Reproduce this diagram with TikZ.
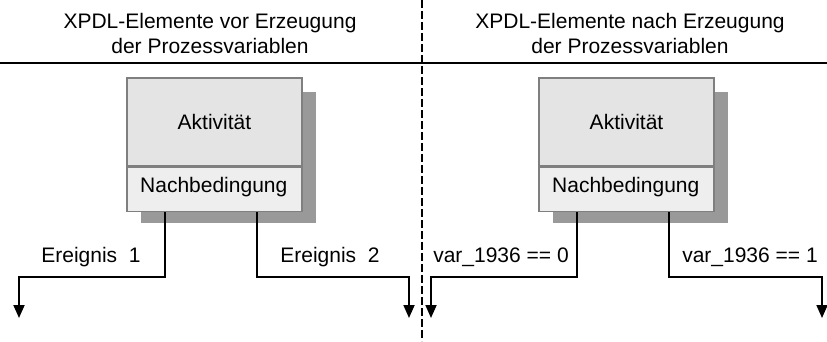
\documentclass[tikz,border=0pt]{standalone}
\usepackage{fontspec}
\setmainfont{Liberation Sans}
\usetikzlibrary{arrows.meta}

\definecolor{actfill}{HTML}{E4E4E4}
\definecolor{postfill}{HTML}{EEEEEE}
\definecolor{shadowgray}{HTML}{999999}
\definecolor{framegray}{HTML}{7F7F7F}

\tikzset{
  boxpart/.style={draw=framegray, line width=1.2pt, minimum width=175pt, inner sep=0pt},
  flow/.style={line width=1.8pt, -{Triangle[width=11pt,length=13pt]}},
  caption/.style={font=\fontsize{21}{25}\selectfont, align=center},
  label/.style={font=\fontsize{21}{25}\selectfont, inner sep=0pt}
}

\begin{document}
\begin{tikzpicture}[x=1pt, y=-1pt]
        \useasboundingbox (0,0) rectangle (827,341);

        % Headings and separators
        \node[caption] (head1) at (210,33) {XPDL-Elemente vor Erzeugung\\der Prozessvariablen};
        \node[caption] (head2) at (630,33) {XPDL-Elemente nach Erzeugung\\der Prozessvariablen};
        \draw[line width=2.4pt] (0,63) -- (827,63);
        \draw[line width=2.6pt, dash pattern=on 8pt off 3pt] (422,0) -- (422,341);

        % Left activity box
        \fill[shadowgray] (141,92) rectangle (316,223);
        \node[boxpart, fill=actfill, minimum height=88pt] (act1) at (214.5,122) {\fontsize{21}{25}\selectfont Aktivit\"at};
        \node[boxpart, fill=postfill, minimum height=44pt, anchor=north] (post1) at (act1.south) {};
        \node[label, anchor=west] (cond1) at (140,187) {Nachbedingung};

        % Right activity box
        \fill[shadowgray] (553,92) rectangle (728,223);
        \node[boxpart, fill=actfill, minimum height=88pt] (act2) at (626.5,122) {\fontsize{21}{25}\selectfont Aktivit\"at};
        \node[boxpart, fill=postfill, minimum height=44pt, anchor=north] (post2) at (act2.south) {};
        \node[label, anchor=west] (cond2) at (552,187) {Nachbedingung};

        % Branch ends
        \coordinate (end1) at (19,318);
        \coordinate (end2) at (409,318);
        \coordinate (end3) at (431,318);
        \coordinate (end4) at (822,318);

        % Branches
        \draw[flow] ([xshift=-49.5pt]post1.south) -- ++(0,65) -| (end1);
        \draw[flow] ([xshift=42.5pt]post1.south) -- ++(0,65) -| (end2);
        \draw[flow] ([xshift=-49.5pt]post2.south) -- ++(0,65) -| (end3);
        \draw[flow] ([xshift=42.5pt]post2.south) -- ++(0,65) -| (end4);

        % Branch labels
        \node[label] (ev1) at (91,257) {Ereignis\ \ 1};
        \node[label] (ev2) at (330,257) {Ereignis\ \ 2};
        \node[label] (var0) at (501,257) {var\_1936 == 0};
        \node[label] (var1) at (750,257) {var\_1936 == 1};
    \end{tikzpicture}
\end{document}
